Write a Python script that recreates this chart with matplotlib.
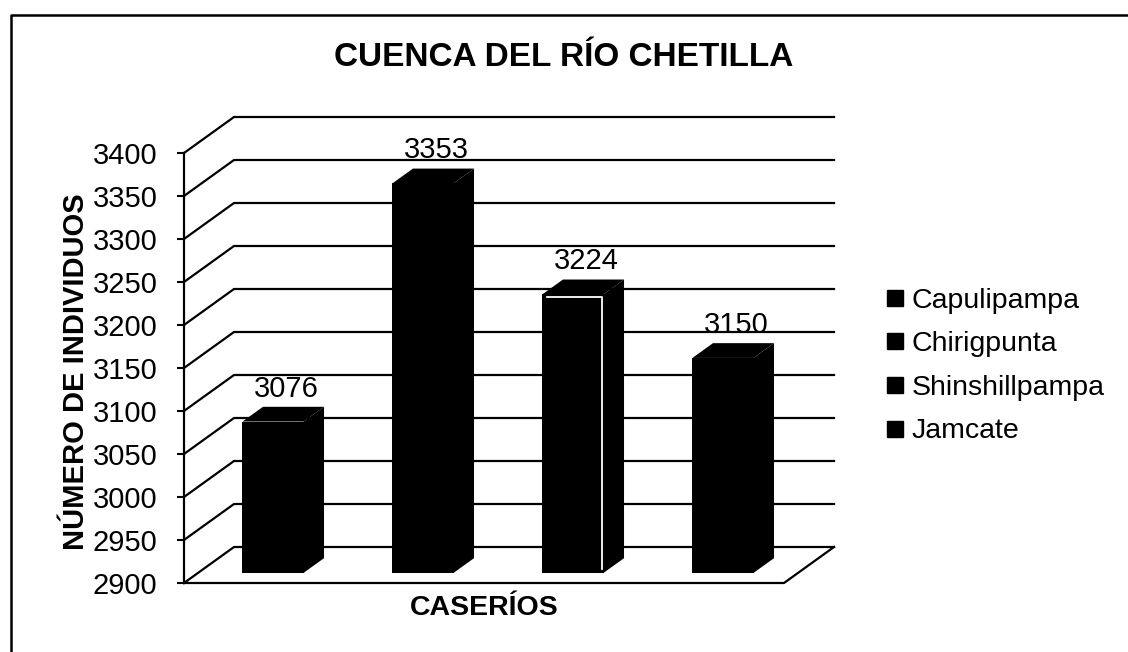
import numpy as np
import matplotlib.pyplot as plt
from matplotlib.lines import Line2D

# --- CUENCA DEL RIO CHETILLA: pseudo-3D bar chart (Excel look) ---

plt.rcParams['font.family'] = ['Liberation Sans', 'DejaVu Sans']

caserios = ['Capulipampa', 'Chirigpunta', 'Shinshillpampa', 'Jamcate']
individuos = [3076, 3353, 3224, 3150]
y_ticks = list(range(2900, 3401, 50))

W, H = 1128, 652
fig = plt.figure(figsize=(W / 100, H / 100), dpi=100)
ax = fig.add_axes([184 / W, 69 / H, 600 / W, 430 / H])
ax.set_xlim(-0.5, 3.5)
ax.set_ylim(2900, 3400)

# depth of the box in data units (about 50 px across, 36 px up)
DX = 50 / 150
DV = 36 / (430 / 500)
f1, f2 = 0.28, 0.69   # bars sit in the middle of the floor depth
bw = 0.407
K = 'black'

# back wall + left wall gridlines
for v in y_ticks:
    ax.plot([-0.5, -0.5 + DX, 3.5 + DX], [v, v + DV, v + DV],
            color=K, lw=1.6, clip_on=False, zorder=1)
# floor
ax.plot([-0.5, 3.5, 3.5 + DX], [2900, 2900, 2900 + DV],
        color=K, lw=1.6, clip_on=False, zorder=1)

dd = f2 - f1
for i, v in enumerate(individuos):
    x0 = i - bw / 2 + f1 * DX
    x1 = i + bw / 2 + f1 * DX
    b = 2900 + f1 * DV
    t = v + f1 * DV
    ox, oy = dd * DX, dd * DV
    # front, top and side faces
    ax.fill([x0, x1, x1, x0], [b, b, t, t], color=K, lw=0, clip_on=False, zorder=3)
    ax.fill([x0, x1, x1 + ox, x0 + ox], [t, t, t + oy, t + oy],
            color=K, lw=0, clip_on=False, zorder=3)
    ax.fill([x1, x1 + ox, x1 + ox, x1], [b, b + oy, t + oy, t],
            color=K, lw=0, clip_on=False, zorder=3)
    if i == 2:
        # the scan shows a white edge on this one
        ax.plot([x0 + 0.03, x1 - 0.012, x1 - 0.012], [t - 3.5, t - 3.5, b + 4],
                color='white', lw=1.3, clip_on=False, zorder=4)
    ax.annotate(str(v), (i + f1 * DX + ox / 2 + 0.02, t + oy), xytext=(0, 3),
                textcoords='offset points', ha='center', va='bottom',
                fontsize=21, annotation_clip=False)

for s in ['top', 'right', 'bottom']:
    ax.spines[s].set_visible(False)
ax.spines['left'].set_linewidth(1.6)
ax.set_xticks([])
ax.set_yticks(y_ticks)
ax.tick_params(axis='y', direction='out', length=5, width=1.5, pad=14, labelsize=21)
ax.patch.set_alpha(0)

fig.text(0.5, 1 - 66 / H, 'CUENCA DEL RÍO CHETILLA', ha='center', va='baseline',
         fontsize=24, fontweight='bold')
fig.text(484 / W, 1 - 615 / H, 'CASERÍOS', ha='center', va='baseline',
         fontsize=20.5, fontweight='bold')
fig.text(76 / W, 1 - 372 / H, 'NÚMERO DE INDIVIDUOS', ha='center', va='center',
         rotation=90, fontsize=21, fontweight='bold')

handles = [Line2D([], [], marker='s', color=K, ls='none', markersize=11) for _ in caserios]
fig.legend(handles, caserios, loc='center left', bbox_to_anchor=(882 / W, 1 - 366 / H),
           frameon=False, fontsize=20.5, handletextpad=0.15, handlelength=0.9,
           labelspacing=0.62, borderaxespad=0, borderpad=0)

# outer frame (only the top and left edges are inside the scan)
fig.add_artist(Line2D([11 / W, 11 / W, 1], [0, 1 - 15 / H, 1 - 15 / H],
                      transform=fig.transFigure, color=K, lw=1.8))

fig.savefig('out.png', dpi=100)
